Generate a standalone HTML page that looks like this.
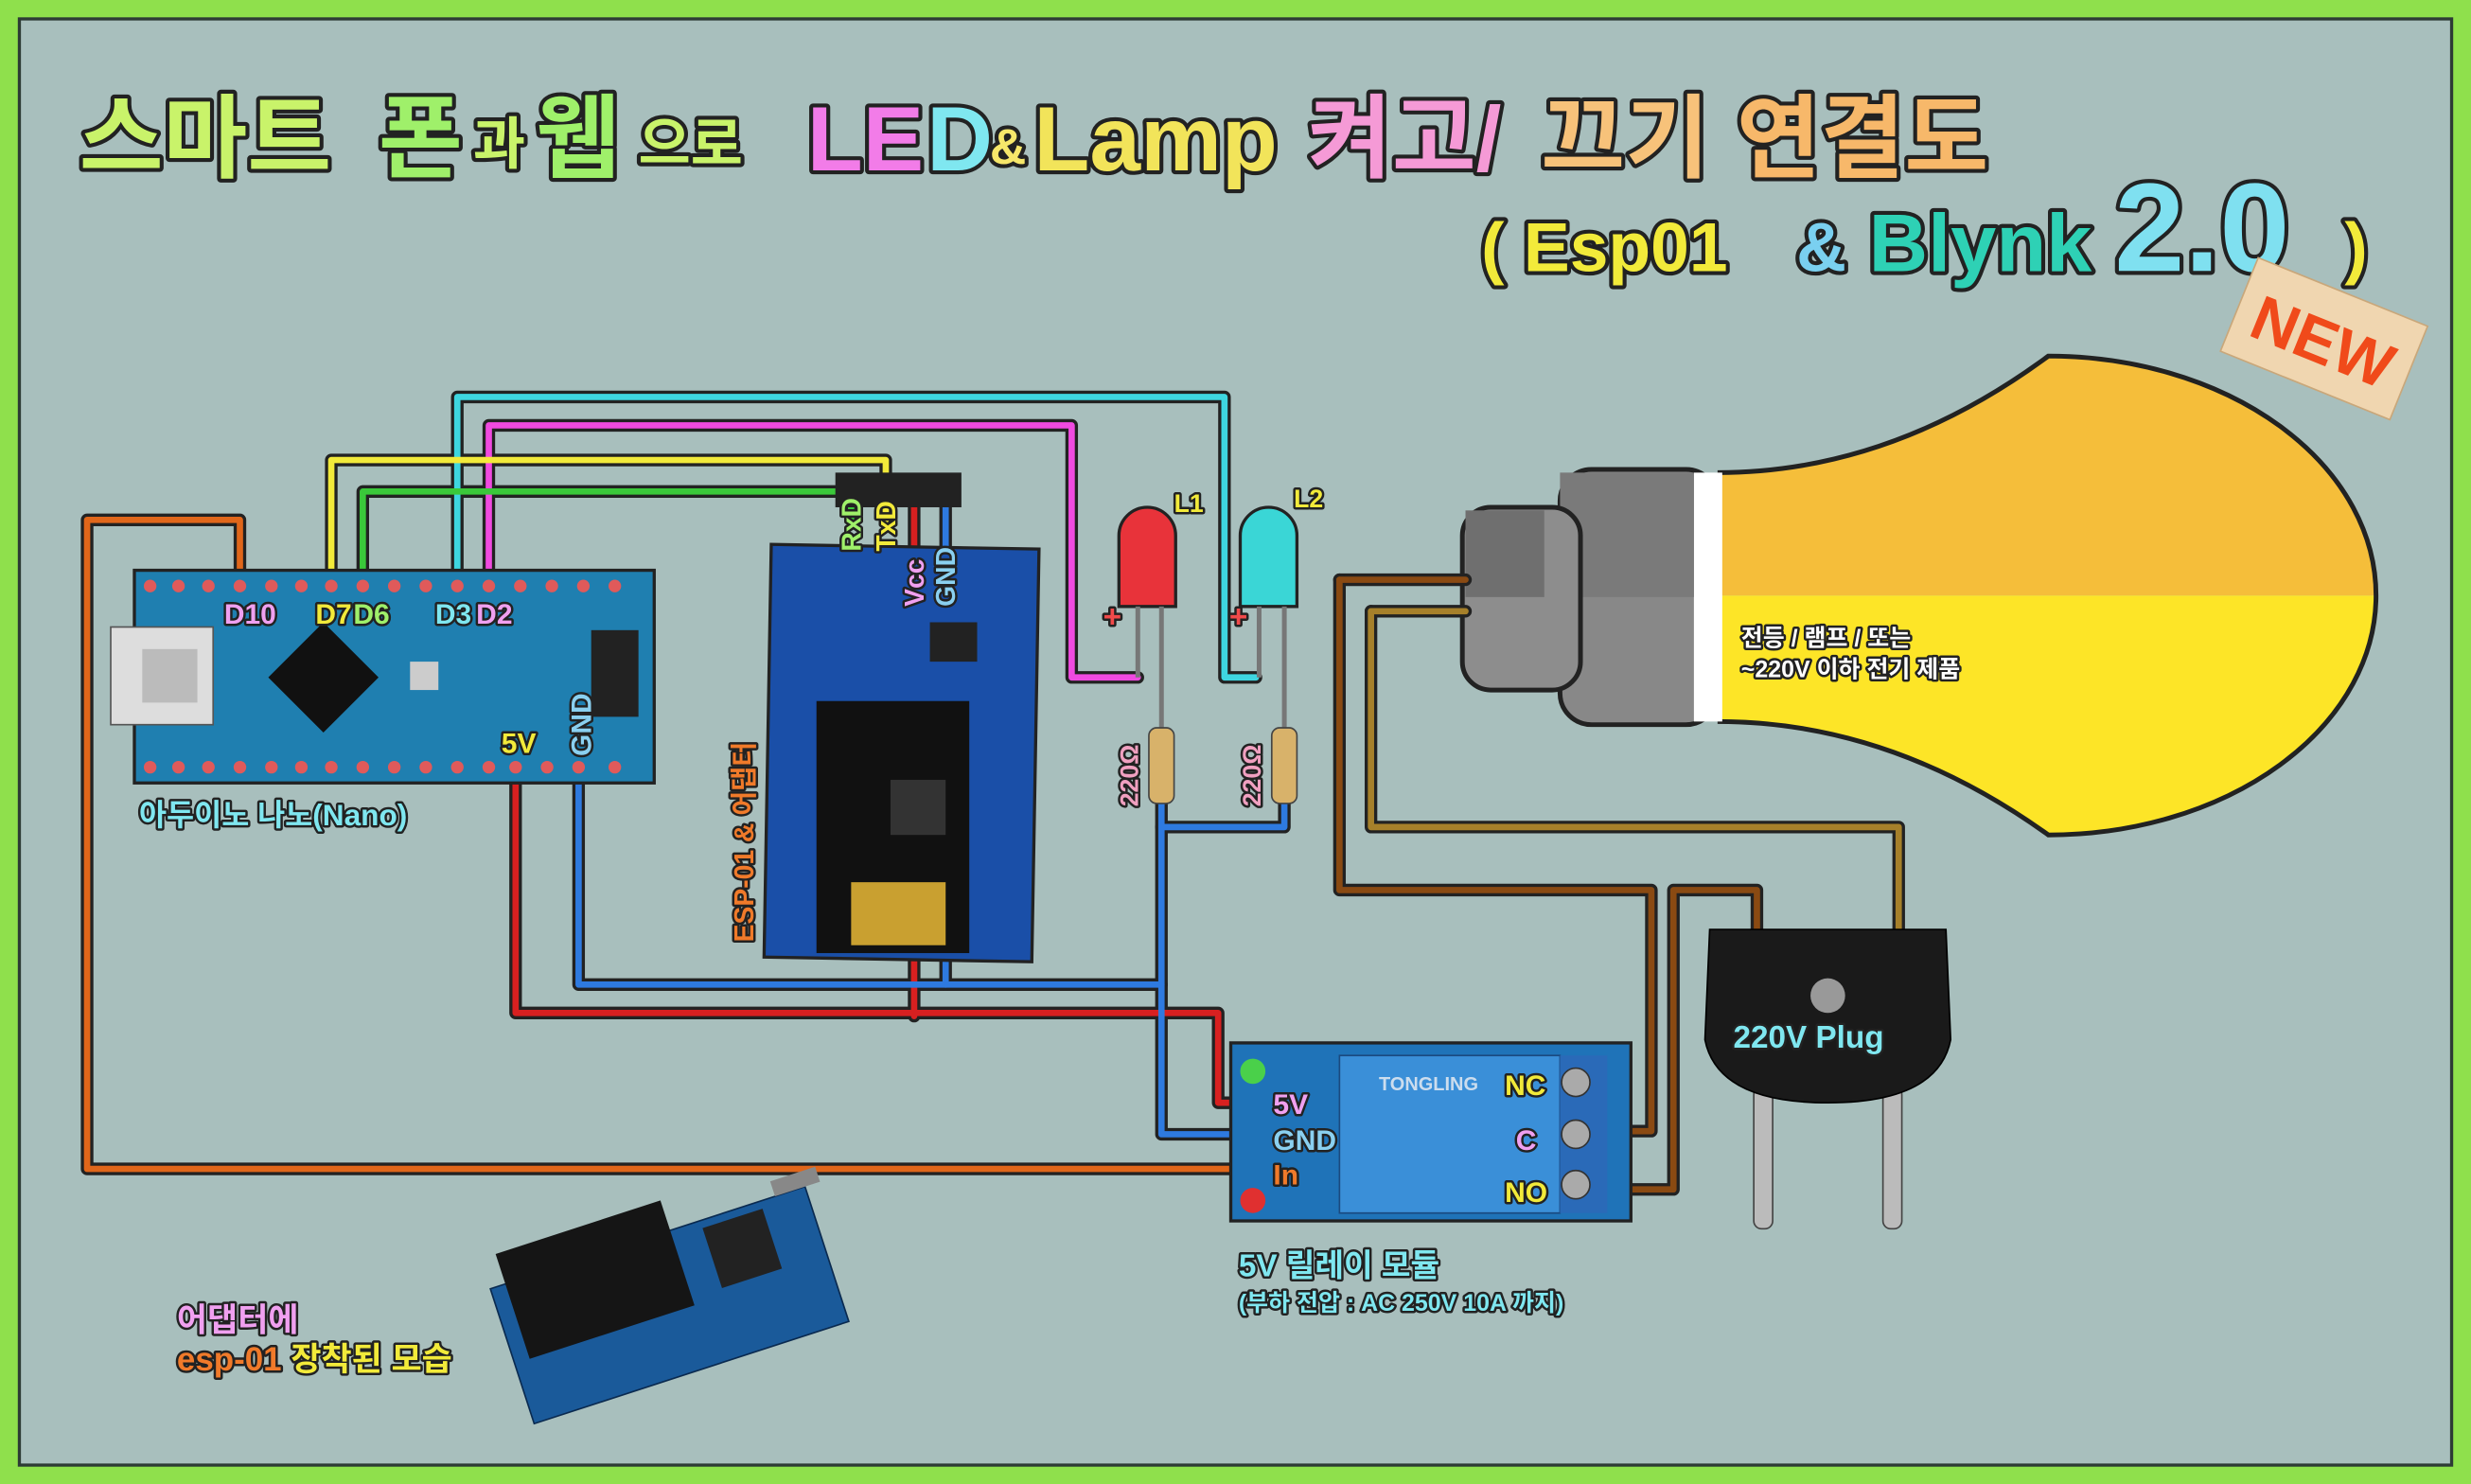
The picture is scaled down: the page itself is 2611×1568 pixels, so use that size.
<!DOCTYPE html>
<html><head><meta charset="utf-8">
<style>
html,body{margin:0;padding:0;background:#8fe04c;}
svg{display:block;}
text{font-family:"Liberation Sans","Noto Sans CJK KR",sans-serif;font-weight:bold;paint-order:stroke;stroke-linejoin:round;}
</style></head>
<body>
<svg width="2611" height="1568" viewBox="0 0 1568 942" xmlns="http://www.w3.org/2000/svg">
<rect x="0" y="0" width="1568" height="942" fill="#8fe04c"/>
<rect x="12" y="12" width="1544" height="918" fill="#a8bfbd" stroke="#2d3b35" stroke-width="2"/>

<!-- Title -->
<g font-size="58" stroke="#222" stroke-width="5">
<text x="50" y="108" fill="#c9f36a">스마트</text>
<text x="240" y="108" fill="#9ff06a">폰</text>
<text x="300" y="104" font-size="36" fill="#c9f36a">과</text>
<text x="340" y="108" fill="#9ff06a">웹</text>
<text x="405" y="104" font-size="36" fill="#c9f36a">으로</text>
<text x="512" y="108" fill="#f27ce8">LE</text>
<text x="588" y="108" fill="#7fe7f0">D</text>
<text x="628" y="104" font-size="32" fill="#f6e76a">&amp;</text>
<text x="656" y="108" fill="#f2e45a">Lamp</text>
<text x="830" y="108" fill="#f59ad6">켜고/</text>
<text x="978" y="108" fill="#f7c27a">끄기</text>
<text x="1102" y="108" fill="#f7b86a">연결도</text>
</g>
<g stroke="#222" stroke-width="5">
<text x="940" y="172" font-size="44" fill="#f2ea3a">( Esp01</text>
<text x="1140" y="172" font-size="44" fill="#7ad0f0">&amp;</text>
<text x="1186" y="172" font-size="52" fill="#2ed1b5">Blynk</text>
<text x="1342" y="172" font-size="80" fill="#7fe0f0">2.0</text>
<text x="1488" y="172" font-size="44" fill="#f2ea3a">)</text>
</g>
<!-- NEW tag -->
<g transform="translate(1475,215) rotate(22)">
<rect x="-58" y="-32" width="116" height="64" fill="#f0d6b0" stroke="#c9a77a"/>
<text x="0" y="16" text-anchor="middle" font-size="40" fill="#f04a1a" stroke="none">NEW</text>
</g>

<!-- Bulb -->
<path d="M1090 300 Q1200 300 1300 226 A208 152 0 0 1 1508 378 L1090 378 Z" fill="#f5be3a"/>
<path d="M1090 378 L1508 378 A208 152 0 0 1 1300 530 Q1200 458 1090 458 Z" fill="#fde527"/>
<path d="M1090 300 Q1200 300 1300 226 A208 152 0 0 1 1508 378 A208 152 0 0 1 1300 530 Q1200 458 1090 458" fill="none" stroke="#222" stroke-width="3"/>
<rect x="990" y="298" width="100" height="162" rx="20" fill="#888" stroke="#222" stroke-width="3"/>
<rect x="1075" y="300" width="18" height="158" fill="#fff"/>
<rect x="990" y="300" width="85" height="79" fill="#7a7a7a"/>
<rect x="928" y="322" width="75" height="116" rx="18" fill="#8d8d8d" stroke="#222" stroke-width="3"/>
<rect x="930" y="324" width="50" height="55" fill="#6f6f6f"/>
<text x="1105" y="410" font-size="15" fill="#fff" stroke="#222" stroke-width="3">전등 / 램프 / 또는</text>
<text x="1105" y="430" font-size="15" fill="#fff" stroke="#222" stroke-width="3">~220V 이하 전기 제품</text>

<g fill="none" stroke-linejoin="round" stroke-linecap="round">
<g stroke="#222" stroke-width="8">
<polyline points="290,372 290,252 777,252 777,430 797,430"/>
<polyline points="310,372 310,270 680,270 680,430 722,430"/>
<polyline points="210,372 210,292 562,292 562,330"/>
<polyline points="230,372 230,312 540,312 540,330"/>
<polyline points="152,372 152,330 55,330 55,742 780,742"/>
<polyline points="327,487 327,643 773,643 773,700 792,700"/>
<polyline points="580,312 580,645"/>
<polyline points="367,487 367,625 737,625 737,720 792,720"/>
<polyline points="600,312 600,625"/>
<polyline points="737,510 737,525 815,525 815,510"/>
<polyline points="737,525 737,625"/>
<polyline points="850,368 930,368"/>
<polyline points="850,368 850,565 1048,565 1048,718 1020,718"/>
<polyline points="870,388 930,388"/>
<polyline points="870,388 870,525 1205,525 1205,590"/>
<polyline points="1020,755 1062,755 1062,565 1115,565 1115,590"/>
</g>
<g stroke-width="4">
<polyline stroke="#3ed6e0" points="290,372 290,252 777,252 777,430 797,430"/>
<polyline stroke="#f04ae0" points="310,372 310,270 680,270 680,430 722,430"/>
<polyline stroke="#f2ea3a" points="210,372 210,292 562,292 562,330"/>
<polyline stroke="#3ac83a" points="230,372 230,312 540,312 540,330"/>
<polyline stroke="#e0661a" points="152,372 152,330 55,330 55,742 780,742"/>
<polyline stroke="#d82020" points="327,487 327,643 773,643 773,700 792,700"/>
<polyline stroke="#d82020" points="580,312 580,645"/>
<polyline stroke="#2e7ae0" points="367,487 367,625 737,625 737,720 792,720"/>
<polyline stroke="#2e7ae0" points="600,312 600,625"/>
<polyline stroke="#2e7ae0" points="737,510 737,525 815,525 815,510"/>
<polyline stroke="#2e7ae0" points="737,525 737,625"/>
<polyline stroke="#8a4a12" points="850,368 930,368"/>
<polyline stroke="#8a4a12" points="850,368 850,565 1048,565 1048,718 1020,718"/>
<polyline stroke="#a6802a" points="870,388 930,388"/>
<polyline stroke="#a6802a" points="870,388 870,525 1205,525 1205,590"/>
<polyline stroke="#8a4a12" points="1020,755 1062,755 1062,565 1115,565 1115,590"/>
</g>
</g>

<!-- Arduino Nano -->
<rect x="85" y="362" width="330" height="135" fill="#1f7fb0" stroke="#222" stroke-width="2"/>
<g fill="#e05a5a">
<circle cx="95" cy="372" r="4"/><circle cx="113" cy="372" r="4"/><circle cx="132" cy="372" r="4"/><circle cx="152" cy="372" r="4"/><circle cx="172" cy="372" r="4"/><circle cx="191" cy="372" r="4"/><circle cx="210" cy="372" r="4"/><circle cx="230" cy="372" r="4"/><circle cx="250" cy="372" r="4"/><circle cx="270" cy="372" r="4"/><circle cx="290" cy="372" r="4"/><circle cx="310" cy="372" r="4"/><circle cx="330" cy="372" r="4"/><circle cx="350" cy="372" r="4"/><circle cx="370" cy="372" r="4"/><circle cx="390" cy="372" r="4"/>
<circle cx="95" cy="487" r="4"/><circle cx="113" cy="487" r="4"/><circle cx="132" cy="487" r="4"/><circle cx="152" cy="487" r="4"/><circle cx="172" cy="487" r="4"/><circle cx="191" cy="487" r="4"/><circle cx="210" cy="487" r="4"/><circle cx="230" cy="487" r="4"/><circle cx="250" cy="487" r="4"/><circle cx="270" cy="487" r="4"/><circle cx="290" cy="487" r="4"/><circle cx="310" cy="487" r="4"/><circle cx="327" cy="487" r="4"/><circle cx="347" cy="487" r="4"/><circle cx="367" cy="487" r="4"/><circle cx="390" cy="487" r="4"/>
</g>
<polygon points="205,395 240,430 205,465 170,430" fill="#111"/>
<rect x="70" y="398" width="65" height="62" fill="#ddd" stroke="#555"/>
<rect x="90" y="412" width="35" height="34" fill="#bbb"/>
<rect x="260" y="420" width="18" height="18" fill="#ccc"/>
<rect x="375" y="400" width="30" height="55" fill="#222"/>
<g font-size="18" stroke="#222" stroke-width="3">
<text x="142" y="396" fill="#f0a0f0">D10</text>
<text x="200" y="396" fill="#f2ea3a">D7</text>
<text x="224" y="396" fill="#9ff06a">D6</text>
<text x="276" y="396" fill="#7fe7f0">D3</text>
<text x="302" y="396" fill="#f0a0f0">D2</text>
<text x="318" y="478" fill="#f2ea3a">5V</text>
<text transform="translate(375,480) rotate(-90)" fill="#8ad0f0">GND</text>
</g>
<text x="88" y="524" font-size="19" fill="#7fe7f0" stroke="#222" stroke-width="3">아두이노 나노(Nano)</text>

<!-- ESP adapter -->
<rect x="487" y="347" width="170" height="262" fill="#1a4fa8" stroke="#222" stroke-width="2" transform="rotate(1 570 478)"/>
<rect x="530" y="300" width="80" height="22" fill="#222"/>
<rect x="518" y="445" width="97" height="160" fill="#111"/>
<rect x="540" y="560" width="60" height="40" fill="#c9a030"/>
<rect x="565" y="495" width="35" height="35" fill="#333"/>
<rect x="590" y="395" width="30" height="25" fill="#222"/>
<g font-size="17" stroke="#222" stroke-width="3">
<text transform="translate(546,350) rotate(-90)" fill="#9ff06a">RxD</text>
<text transform="translate(568,350) rotate(-90)" fill="#f2ea3a">TxD</text>
<text transform="translate(586,385) rotate(-90)" fill="#f0a0f0">Vcc</text>
<text transform="translate(606,385) rotate(-90)" fill="#8ad0f0">GND</text>
<text transform="translate(478,598) rotate(-90)" fill="#f07a2a">ESP-01 &amp; 어댑터</text>
</g>

<!-- LEDs -->
<g stroke="#222" stroke-width="2">
<path d="M710 385 L710 340 A18 18 0 0 1 746 340 L746 385 Z" fill="#e8333a"/>
<path d="M787 385 L787 340 A18 18 0 0 1 823 340 L823 385 Z" fill="#3ad6d6"/>
</g>
<g stroke="#777" stroke-width="3">
<line x1="722" y1="385" x2="722" y2="430"/><line x1="737" y1="385" x2="737" y2="470"/>
<line x1="799" y1="385" x2="799" y2="430"/><line x1="815" y1="385" x2="815" y2="470"/>
</g>
<rect x="729" y="462" width="16" height="48" rx="5" fill="#d8b26a" stroke="#444"/>
<rect x="807" y="462" width="16" height="48" rx="5" fill="#d8b26a" stroke="#444"/>
<g font-size="16" stroke="#222" stroke-width="3">
<text x="745" y="325" fill="#f2ea3a">L1</text>
<text x="821" y="322" fill="#f2ea3a">L2</text>
<text x="700" y="398" fill="#f04a4a" font-size="20">+</text>
<text x="780" y="398" fill="#f04a4a" font-size="20">+</text>
<text transform="translate(722,512) rotate(-90)" fill="#f0a0c0">220Ω</text>
<text transform="translate(800,512) rotate(-90)" fill="#f0a0c0">220Ω</text>
</g>

<!-- Plug -->
<rect x="1113" y="690" width="12" height="90" rx="5" fill="#bbb" stroke="#444"/>
<rect x="1195" y="690" width="12" height="90" rx="5" fill="#bbb" stroke="#444"/>
<path d="M1085 590 L1235 590 L1238 660 Q1230 700 1160 700 Q1090 700 1082 660 Z" fill="#1a1a1a" stroke="#000"/>
<circle cx="1160" cy="632" r="11" fill="#999"/>
<text x="1100" y="665" font-size="20" fill="#7fe7f0" stroke="#222" stroke-width="3">220V Plug</text>

<!-- Relay -->
<rect x="781" y="662" width="254" height="113" fill="#1f73b8" stroke="#222" stroke-width="2"/>
<rect x="850" y="670" width="140" height="100" fill="#3a8fd8" stroke="#1a4a80"/>
<rect x="990" y="670" width="30" height="100" fill="#2a6ab8"/>
<circle cx="1000" cy="687" r="9" fill="#aaa" stroke="#333"/>
<circle cx="1000" cy="720" r="9" fill="#aaa" stroke="#333"/>
<circle cx="1000" cy="752" r="9" fill="#aaa" stroke="#333"/>
<circle cx="795" cy="680" r="8" fill="#4ad04a"/>
<circle cx="795" cy="762" r="8" fill="#e03030"/>
<text x="875" y="692" font-size="12" fill="#cde">TONGLING</text>
<g font-size="18" stroke="#222" stroke-width="3">
<text x="955" y="695" fill="#f2ea3a">NC</text>
<text x="962" y="730" fill="#f0a0f0">C</text>
<text x="955" y="763" fill="#f2ea3a">NO</text>
<text x="808" y="707" fill="#f0a0f0">5V</text>
<text x="808" y="730" fill="#8ad0f0">GND</text>
<text x="808" y="752" fill="#f07a2a">In</text>
</g>
<text x="786" y="810" font-size="20" fill="#7fe7f0" stroke="#222" stroke-width="3">5V 릴레이 모듈</text>
<text x="786" y="832" font-size="15" fill="#7fe7f0" stroke="#222" stroke-width="3">(부하 전압 : AC 250V 10A 까지)</text>

<!-- ESP on adapter photo -->
<g transform="translate(420,830) rotate(-18)">
<rect x="-100" y="-45" width="210" height="90" fill="#1a5a9a" stroke="#0a2a50"/>
<rect x="-90" y="-65" width="110" height="70" fill="#151515"/>
<rect x="40" y="-40" width="40" height="40" fill="#222"/>
<rect x="90" y="-55" width="30" height="10" fill="#888"/>
</g>
<text x="112" y="845" font-size="21" fill="#f0a0f0" stroke="#222" stroke-width="3">어댑터에</text>
<text x="112" y="870" font-size="21" fill="#f07a2a" stroke="#222" stroke-width="3">esp-01 <tspan fill="#f2ea3a">장착된 모습</tspan></text>
</svg>
</body></html>
